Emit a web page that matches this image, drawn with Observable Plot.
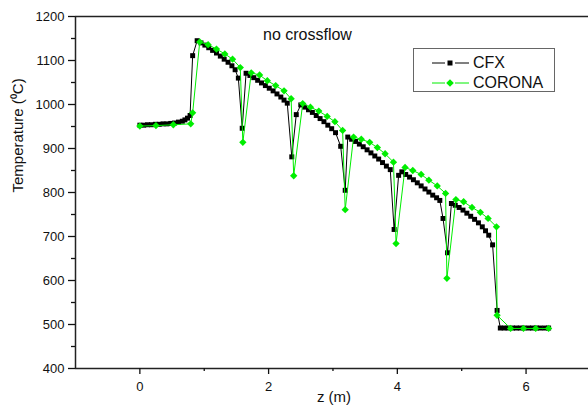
<!DOCTYPE html>
<html><head><meta charset="utf-8">
<script src="https://cdn.jsdelivr.net/npm/d3@7"></script>
<script src="https://cdn.jsdelivr.net/npm/@observablehq/plot@0.6"></script>
<style>
html,body{margin:0;padding:0;background:#fff;overflow:hidden;}
#wrap{position:relative;width:588px;height:410px;overflow:hidden;font-family:"Liberation Sans",Arial,sans-serif;}
#wrap > svg{position:absolute;left:0;top:0;}
#title{position:absolute;left:263px;top:26px;font-size:16px;color:#111;white-space:nowrap;}
#legend{position:absolute;left:413px;top:48px;width:142px;height:44px;border:1px solid #666;box-sizing:border-box;background:#fff;}
.row{position:absolute;left:0;height:20px;display:flex;align-items:center;}
.row svg{margin-left:18px;}
.row span{font-size:16px;color:#111;margin-left:4px;}
</style></head>
<body><div id="wrap"><div id="title">no crossflow</div></div>
<script>
// CFX (black squares)
const cfxZ = [0.00,0.06,0.12,0.18,0.24,0.30,0.36,0.42,0.48,0.54,0.60,0.66,0.70,0.74,0.78,0.82,
  0.89,0.95,1.01,1.07,1.13,1.19,1.25,1.31,1.37,1.43,1.48,1.53,1.59,1.65,
  1.71,1.77,1.83,1.89,1.95,2.01,2.07,2.13,2.19,2.24,2.29,2.36,2.43,
  2.50,2.56,2.62,2.68,2.74,2.80,2.86,2.92,2.98,3.04,3.12,3.19,3.23,
  3.29,3.35,3.41,3.47,3.53,3.59,3.65,3.71,3.77,3.83,3.89,3.95,4.02,
  4.07,4.13,4.19,4.25,4.31,4.37,4.43,4.49,4.55,4.61,4.66,4.71,4.78,4.84,
  4.90,4.96,5.02,5.08,5.14,5.20,5.26,5.32,5.37,5.42,5.48,5.55,
  5.60,5.66,5.72,5.79,5.85,5.91,5.97,6.04,6.10,6.16,6.22,6.29,6.35];
const cfxT = [953,953,954,954,955,955,956,956,957,958,960,962,965,969,975,1111,
  1145,1140,1135,1129,1123,1117,1110,1103,1096,1088,1079,1060,946,1071,
  1066,1061,1055,1049,1043,1037,1031,1024,1017,1010,1003,881,977,
  999,994,988,982,975,968,961,953,945,936,905,805,926,
  921,916,910,904,897,890,883,876,868,860,852,716,839,
  847,841,835,829,822,815,808,801,794,788,782,741,663,775,
  771,766,760,753,746,739,731,722,713,703,681,532,
  492,492,492,492,492,492,492,492,492,492,492,492,492];
// CORONA (green diamonds)
const coronaZ = [0.00,0.25,0.52,0.79,0.82,0.93,1.06,1.19,1.32,1.44,1.56,1.60,
  1.73,1.86,1.98,2.11,2.24,2.35,2.39,2.53,2.65,2.78,2.91,3.03,3.15,3.19,
  3.32,3.44,3.57,3.69,3.81,3.94,3.98,4.12,4.24,4.37,4.49,4.62,4.75,4.77,
  4.91,5.03,5.16,5.29,5.41,5.54,5.55,5.76,5.96,6.15,6.35];
const coronaT = [951,952,954,956,981,1142,1136,1126,1115,1103,1084,914,
  1072,1067,1054,1043,1031,1013,838,1002,994,985,973,961,941,761,
  926,921,914,902,888,869,684,857,850,841,828,815,798,605,
  784,779,766,755,741,722,521,491,491,491,491];
const seriesNames = ["CFX","CORONA"];
const seriesColors = ["#000000","#00ee00"];
const xDomain = [-1, 6.97];
const yDomain = [400, 1200];
const xMajor = [0,2,4,6];
const xMinor = [1,3,5];
const yMajor = [400,500,600,700,800,900,1000,1100,1200];
const yMinor = [450,550,650,750,850,950,1050,1150];

const cfx = cfxZ.map((z,i)=>({z, t:cfxT[i]}));
const corona = coronaZ.map((z,i)=>({z, t:coronaT[i]}));

const chart = Plot.plot({
  width: 588, height: 410,
  marginLeft: 75, marginRight: 0, marginTop: 16, marginBottom: 42,
  style: {fontFamily: '"Liberation Sans", Arial, sans-serif', fontSize: "13px", color: "#111", background: "#fff"},
  x: {domain: xDomain},
  y: {domain: yDomain},
  marks: [
    Plot.ruleY(yDomain, {stroke: "#222", strokeWidth: 1.5}),
    Plot.ruleX([xDomain[0]], {stroke: "#222", strokeWidth: 1.5}),
    Plot.axisY({ticks: yMajor, tickSize: 7, tickPadding: 4, strokeWidth: 1.3, tickFormat: d => String(d), label: null, fontSize: 13}),
    Plot.axisY({ticks: yMinor, tickSize: 4, tickFormat: () => "", strokeWidth: 1.3, label: null}),
    Plot.axisX({ticks: xMajor, tickSize: 6, tickPadding: 7, strokeWidth: 1.3, tickFormat: d => String(d), label: null, fontSize: 13}),
    Plot.axisX({ticks: xMinor, tickSize: 3, tickFormat: () => "", strokeWidth: 1.3, label: null}),
    Plot.text(["Temperature (⁰C)"], {frameAnchor: "left", dx: -57, rotate: -90, fontSize: 15, fill: "#111"}),
    Plot.text(["z (m)"], {frameAnchor: "bottom", dy: 33, dx: 2, fontSize: 15, fill: "#111"}),
    Plot.line(cfx, {x: "z", y: "t", stroke: seriesColors[0], strokeWidth: 1}),
    Plot.dot(cfx, {x: "z", y: "t", symbol: "square", r: 2.8, fill: seriesColors[0], stroke: "none"}),
    Plot.line(corona, {x: "z", y: "t", stroke: seriesColors[1], strokeWidth: 1}),
    Plot.dot(corona, {x: "z", y: "t", symbol: "diamond2", r: 3.3, fill: seriesColors[1], stroke: "none"})
  ]
});
const wrap = document.getElementById("wrap");
wrap.insertBefore(chart, wrap.firstChild);

// legend
const legend = document.createElement("div");
legend.id = "legend";
seriesNames.forEach((name, i) => {
  const row = document.createElement("div");
  row.className = "row";
  row.style.top = (4 + i * 20) + "px";
  const sym = i === 0
    ? `<rect x="15.5" y="7.5" width="5" height="5" fill="${seriesColors[i]}"/>`
    : `<path d="M18 6.2 L21.8 10 L18 13.8 L14.2 10 Z" fill="${seriesColors[i]}"/>`;
  row.innerHTML = `<svg width="37" height="20"><line x1="0" x2="13" y1="10" y2="10" stroke="${seriesColors[i]}"/><line x1="23" x2="37" y1="10" y2="10" stroke="${seriesColors[i]}"/>${sym}</svg><span>${name}</span>`;
  legend.appendChild(row);
});
wrap.appendChild(legend);
</script>
</body></html>
